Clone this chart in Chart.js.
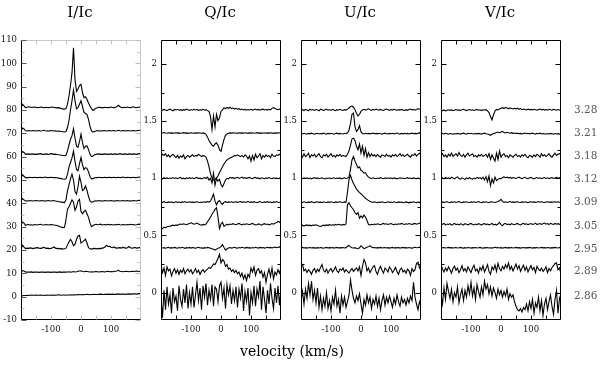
<!DOCTYPE html>
<html><head><meta charset="utf-8">
<script src="https://cdn.jsdelivr.net/npm/chart.js@4.4.1/dist/chart.umd.min.js"></script>
<style>
html,body{margin:0;padding:0;background:#fff;}
#wrap{position:relative;width:600px;height:366px;overflow:hidden;font-family:"DejaVu Serif",serif;background:#fff;}
canvas{position:absolute;left:0;top:0;}
.t{position:absolute;white-space:nowrap;transform:translate(-50%,-50%);color:#000;line-height:1;}
.ph{position:absolute;white-space:nowrap;transform:translateY(-50%);color:#555;font-size:10.5px;line-height:1;}
</style></head><body>
<div id="wrap">
<canvas id="cI" width="600" height="366"></canvas>
<canvas id="cQ" width="600" height="366"></canvas>
<canvas id="cU" width="600" height="366"></canvas>
<canvas id="cV" width="600" height="366"></canvas>
</div>
<script>
// ---------- categories / labels ----------
const panelTitles = ['I/Ic', 'Q/Ic', 'U/Ic', 'V/Ic'];
const phases = ['3.28', '3.21', '3.18', '3.12', '3.09', '3.05', '2.95', '2.89', '2.86'];
const xAxisTitle = 'velocity (km/s)';
const xLabelTicks = [-100, 0, 100];
const xTickMarks = [-150, -100, -50, 0, 50, 100, 150];
const iLabelTicks = [-10, 0, 10, 20, 30, 40, 50, 60, 70, 80, 90, 100, 110];
const iTickMarks = [-10, -5, 0, 5, 10, 15, 20, 25, 30, 35, 40, 45, 50, 55, 60, 65, 70, 75, 80, 85, 90, 95, 100, 105, 110];
const pLabelTicks = [0, 0.5, 1, 1.5, 2];
const pTickMarks = [0, 0.25, 0.5, 0.75, 1, 1.25, 1.5, 1.75, 2];

const velocity = [-200,-195,-190,-185,-180,-175,-170,-165,-160,-155,-150,-145,-140,-135,-130,-125,-120,-115,-110,-105,
-100,-95,-90,-85,-80,-75,-70,-65,-60,-55,-50,-45,-40,-35,-30,-25,-20,-15,-10,-5,
0,5,10,15,20,25,30,35,40,45,50,55,60,65,70,75,80,85,90,95,
100,105,110,115,120,125,130,135,140,145,150,155,160,165,170,175,180,185,190,195,200];

// ---------- I/Ic ----------
const I_328 = [81.0,82.5,81.8,81.0,81.2,81.4,81.3,81.1,81.2,81.3,
81.2,81.0,81.1,81.3,81.2,81.0,81.1,81.2,81.0,81.1,
81.2,81.3,81.1,81.0,80.9,81.0,80.8,80.6,80.5,80.4,
80.6,82.5,86.0,90.5,96.0,106.7,93.0,88.0,89.0,90.5,
91.0,87.5,85.3,85.7,84.5,83.0,81.6,80.6,79.8,80.3,
80.8,81.0,81.2,81.0,81.1,81.0,81.2,81.1,81.0,81.1,
81.3,81.1,81.0,81.2,81.5,82.0,81.4,81.1,81.0,81.2,
81.1,81.3,81.1,81.0,81.2,81.4,81.1,81.0,81.2,81.3,
81.2];
const I_321 = [71.0,72.3,71.9,71.1,71.0,71.2,71.1,71.0,71.2,71.1,
71.0,71.1,71.2,71.0,71.1,71.3,71.1,71.0,71.1,71.0,
71.2,71.1,71.0,71.1,70.9,71.0,70.9,70.8,70.7,70.6,
70.8,72.5,75.5,80.0,84.0,88.5,84.0,80.5,81.0,82.5,
84.0,81.5,79.0,78.5,78.0,76.0,73.0,71.0,70.5,70.8,
71.0,71.2,71.0,71.1,71.0,71.2,71.1,71.0,71.1,71.2,
71.0,71.1,71.2,71.0,71.1,71.3,71.1,71.0,71.2,71.1,
71.0,71.2,71.1,71.0,71.1,71.2,71.0,71.1,71.2,71.3,
71.2];
const I_318 = [61.0,62.2,61.8,61.0,61.1,61.2,61.0,61.1,61.2,61.0,
61.1,61.0,61.2,61.3,61.1,61.0,61.1,61.2,61.0,61.1,
61.3,61.2,61.0,61.1,60.9,60.8,60.7,60.6,60.5,60.4,
60.6,62.5,65.0,67.5,69.0,72.0,68.0,64.5,64.0,66.5,
69.6,66.0,63.5,64.5,64.6,63.0,61.0,60.0,60.3,60.8,
61.0,61.1,61.2,61.0,61.1,61.0,61.2,61.1,61.0,61.1,
61.2,61.0,61.1,61.2,61.0,61.1,61.3,61.1,61.0,61.2,
61.1,61.0,61.2,61.1,61.0,61.2,61.1,61.0,61.2,61.3,
61.2];
const I_312 = [51.0,52.2,51.6,51.0,51.1,51.0,51.2,51.1,51.0,51.2,
51.1,51.0,51.1,51.2,51.0,51.1,51.3,51.1,51.0,51.1,
51.2,51.1,51.0,51.1,51.0,50.8,50.7,50.6,50.4,50.3,
50.5,52.5,55.5,57.5,59.5,62.4,58.0,54.5,54.0,57.0,
59.6,56.5,54.5,55.3,55.0,53.5,51.5,50.5,50.6,51.0,
51.1,51.0,51.2,51.1,51.0,51.1,51.2,51.0,51.1,51.2,
51.0,51.1,51.2,51.0,51.1,51.2,51.0,51.1,51.3,51.1,
51.0,51.2,51.1,51.0,51.1,51.2,51.0,51.1,51.2,51.3,
51.2];
const I_309 = [41.0,42.0,41.5,41.0,41.1,41.0,41.2,41.1,41.0,41.1,
41.2,41.1,41.0,41.1,41.2,41.0,41.1,41.0,41.2,41.1,
41.0,41.1,41.2,41.0,40.9,40.8,40.6,40.5,40.4,40.3,
41.5,45.5,48.0,50.5,52.5,50.0,45.0,44.0,47.0,51.6,
49.0,45.5,46.0,47.5,45.5,43.0,41.0,40.5,40.6,41.0,
41.1,41.0,41.2,41.0,41.1,41.0,41.2,41.1,41.0,41.1,
41.2,41.0,41.1,41.0,41.2,41.1,41.0,41.1,41.2,41.0,
41.1,41.2,41.0,41.1,41.0,41.2,41.1,41.0,41.2,41.3,
41.2];
const I_305 = [30.8,32.0,31.5,30.6,30.8,30.9,30.7,30.8,30.6,30.9,
30.8,30.7,30.9,31.0,30.8,30.7,30.8,30.9,30.7,30.8,
30.9,30.8,30.7,30.6,30.5,30.3,30.0,29.8,29.6,29.7,
33.0,37.5,38.5,40.0,41.5,40.5,37.0,38.5,41.0,41.7,
36.5,35.5,36.5,37.0,35.5,34.0,31.5,30.0,30.5,30.8,
31.0,30.8,30.9,31.1,30.7,30.8,30.9,30.7,31.0,30.8,
30.9,30.8,30.7,30.9,30.8,31.0,30.8,30.7,30.9,30.8,
30.7,30.9,30.8,31.0,30.8,30.9,30.7,30.8,31.0,31.1,
31.0];
const I_295 = [20.5,22.0,21.2,20.6,20.8,20.7,20.9,20.8,20.6,20.8,
20.9,21.0,20.8,20.7,20.8,21.2,20.9,20.7,20.8,20.6,
20.7,21.0,21.3,20.8,20.6,20.7,20.5,20.6,20.4,20.5,
20.8,22.2,23.5,24.6,23.5,21.8,22.5,24.5,26.0,26.3,
23.0,23.5,24.0,24.6,23.0,21.0,20.5,20.4,20.6,20.7,
20.6,20.5,20.7,20.6,20.8,20.9,21.3,22.0,21.5,21.6,
21.2,21.0,21.3,20.9,20.8,20.9,21.0,20.8,21.2,20.9,
20.8,21.0,21.5,21.0,20.8,20.9,21.1,20.8,20.9,21.0,
21.0];
const I_289 = [10.4,11.2,11.0,10.6,10.5,10.6,10.5,10.6,10.4,10.5,
10.6,10.5,10.4,10.5,10.6,10.5,10.4,10.5,10.6,10.5,
10.4,10.5,10.6,10.5,10.4,10.5,10.6,10.4,10.5,10.6,
10.5,10.6,10.7,10.5,10.6,10.8,10.6,10.7,10.9,11.0,
11.1,10.8,10.7,10.9,10.8,10.7,10.6,10.7,10.6,10.7,
10.8,10.7,10.6,10.7,10.8,10.7,10.6,10.8,10.9,10.7,
10.8,10.7,10.8,10.9,11.0,11.3,10.9,10.8,10.7,10.8,
10.9,10.8,10.7,10.8,10.9,10.8,10.9,11.0,10.9,10.8,
10.9];
const I_286 = [0.2,0.4,0.5,0.5,0.6,0.5,0.6,0.7,0.6,0.6,
0.7,0.6,0.6,0.7,0.6,0.5,0.6,0.7,0.6,0.6,
0.7,0.6,0.7,0.6,0.7,0.8,0.7,0.6,0.7,0.7,
0.6,0.7,0.7,0.8,0.7,0.8,0.7,0.8,0.9,0.8,
0.8,0.9,0.8,0.9,1.0,0.9,0.8,0.9,0.9,1.0,
0.9,0.9,1.0,1.1,1.0,0.9,1.0,1.0,1.1,1.0,
1.0,1.1,1.0,1.0,1.1,1.2,1.0,1.1,1.1,1.0,
1.1,1.1,1.2,1.1,1.1,1.2,1.2,1.1,1.2,1.3,
1.3];

// ---------- Q/Ic ----------
const Q_328 = [1.600,1.595,1.603,1.598,1.592,1.600,1.606,1.597,1.590,1.602,
1.598,1.604,1.596,1.600,1.593,1.601,1.597,1.605,1.599,1.594,
1.601,1.596,1.604,1.598,1.602,1.595,1.600,1.597,1.603,1.596,
1.600,1.592,1.585,1.540,1.427,1.545,1.450,1.560,1.505,1.530,
1.585,1.600,1.618,1.608,1.620,1.612,1.622,1.610,1.615,1.606,
1.612,1.604,1.609,1.600,1.606,1.598,1.603,1.596,1.602,1.598,
1.604,1.597,1.601,1.606,1.598,1.603,1.596,1.601,1.605,1.598,
1.602,1.597,1.603,1.599,1.612,1.618,1.610,1.605,1.600,1.606,
1.602];
const Q_321 = [1.398,1.395,1.400,1.396,1.394,1.398,1.395,1.397,1.393,1.396,
1.398,1.395,1.397,1.394,1.396,1.399,1.395,1.397,1.393,1.396,
1.398,1.396,1.394,1.397,1.395,1.398,1.396,1.394,1.397,1.393,
1.385,1.360,1.330,1.310,1.290,1.280,1.300,1.310,1.290,1.250,
1.235,1.290,1.340,1.375,1.388,1.394,1.397,1.395,1.398,1.396,
1.396,1.393,1.398,1.395,1.397,1.394,1.398,1.396,1.393,1.397,
1.395,1.398,1.394,1.396,1.399,1.395,1.397,1.393,1.396,1.398,
1.394,1.397,1.395,1.398,1.396,1.393,1.397,1.395,1.398,1.396,
1.397];
const Q_318 = [1.195,1.210,1.200,1.215,1.190,1.205,1.185,1.200,1.210,1.195,
1.180,1.200,1.175,1.195,1.185,1.205,1.170,1.190,1.200,1.185,
1.195,1.205,1.190,1.200,1.195,1.210,1.200,1.190,1.198,1.195,
1.185,1.150,1.100,1.040,1.000,0.985,0.990,1.005,1.020,1.050,
1.075,1.100,1.125,1.145,1.160,1.170,1.178,1.185,1.190,1.200,
1.195,1.205,1.198,1.190,1.200,1.185,1.205,1.195,1.170,1.195,
1.150,1.200,1.160,1.210,1.180,1.195,1.215,1.170,1.200,1.185,
1.205,1.190,1.200,1.180,1.210,1.195,1.190,1.205,1.200,1.210,
1.200];
const Q_312 = [1.000,0.995,1.005,0.998,1.003,0.996,1.002,0.998,1.006,0.999,
1.004,0.997,1.002,1.008,0.996,1.001,0.994,1.003,0.998,1.005,
0.999,1.004,0.996,1.002,1.007,0.997,1.003,0.995,1.001,1.006,
0.998,1.010,0.985,1.000,0.960,1.045,0.940,1.000,0.975,0.990,
0.945,0.925,0.955,0.985,1.000,0.995,1.008,1.002,1.006,0.998,
1.004,1.009,0.999,1.005,1.010,1.000,1.006,0.998,1.004,1.008,
1.001,0.996,1.005,1.008,0.999,1.003,0.995,1.004,1.000,0.996,
1.003,0.998,1.006,1.001,0.997,1.004,0.999,1.002,0.996,1.001,
0.999];
const Q_309 = [0.792,0.788,0.795,0.790,0.786,0.793,0.789,0.794,0.787,0.791,
0.795,0.789,0.792,0.786,0.793,0.790,0.796,0.788,0.791,0.794,
0.789,0.793,0.787,0.792,0.795,0.790,0.788,0.793,0.791,0.795,
0.790,0.796,0.792,0.800,0.830,0.862,0.800,0.768,0.795,0.805,
0.785,0.772,0.790,0.795,0.788,0.793,0.790,0.794,0.788,0.792,
0.795,0.789,0.793,0.797,0.790,0.794,0.788,0.792,0.796,0.790,
0.793,0.788,0.795,0.790,0.786,0.792,0.797,0.790,0.788,0.793,
0.790,0.795,0.789,0.792,0.787,0.793,0.790,0.796,0.791,0.788,
0.792];
const Q_305 = [0.555,0.560,0.572,0.568,0.575,0.580,0.578,0.586,0.590,0.585,
0.592,0.588,0.595,0.600,0.596,0.602,0.598,0.594,0.600,0.605,
0.610,0.604,0.598,0.602,0.608,0.600,0.594,0.590,0.596,0.592,
0.600,0.620,0.640,0.660,0.685,0.705,0.728,0.742,0.660,0.560,
0.600,0.615,0.580,0.590,0.598,0.592,0.600,0.596,0.603,0.598,
0.594,0.600,0.605,0.598,0.592,0.600,0.596,0.602,0.598,0.594,
0.600,0.605,0.598,0.592,0.596,0.601,0.595,0.590,0.598,0.603,
0.596,0.600,0.593,0.598,0.604,0.598,0.606,0.612,0.622,0.615,
0.625];
const Q_295 = [0.395,0.390,0.393,0.388,0.392,0.396,0.389,0.393,0.390,0.395,
0.391,0.388,0.394,0.390,0.396,0.392,0.387,0.393,0.390,0.395,
0.389,0.394,0.391,0.388,0.393,0.396,0.390,0.392,0.387,0.393,
0.390,0.395,0.392,0.388,0.384,0.378,0.372,0.380,0.388,0.392,
0.402,0.420,0.395,0.372,0.382,0.390,0.394,0.389,0.393,0.396,
0.391,0.388,0.394,0.390,0.396,0.392,0.389,0.395,0.391,0.393,
0.388,0.394,0.390,0.396,0.392,0.389,0.395,0.391,0.394,0.389,
0.393,0.396,0.391,0.395,0.390,0.394,0.398,0.393,0.396,0.400,
0.397];
const Q_289 = [0.240,0.175,0.215,0.150,0.225,0.190,0.205,0.145,0.185,0.210,
0.170,0.200,0.160,0.195,0.175,0.210,0.165,0.190,0.205,0.180,
0.200,0.165,0.185,0.210,0.175,0.195,0.160,0.185,0.200,0.178,
0.195,0.205,0.220,0.210,0.230,0.250,0.245,0.270,0.300,0.335,
0.260,0.290,0.275,0.230,0.245,0.205,0.215,0.185,0.200,0.175,
0.195,0.165,0.180,0.140,0.170,0.120,0.155,0.105,0.160,0.135,
0.215,0.180,0.225,0.150,0.195,0.210,0.170,0.190,0.135,0.175,
0.090,0.160,0.205,0.140,0.215,0.120,0.180,0.155,0.200,0.170,
0.215];
const Q_286 = [-0.05,-0.22,0.02,-0.15,0.05,-0.10,-0.02,-0.18,0.04,-0.08,
-0.03,-0.16,0.06,-0.06,-0.12,0.03,-0.09,0.07,-0.14,0.00,
-0.10,0.05,-0.13,-0.02,0.09,-0.07,0.04,-0.15,0.06,-0.04,
0.08,-0.11,0.02,-0.06,0.07,-0.12,0.05,0.03,-0.08,0.06,
0.09,-0.05,0.04,-0.14,0.07,-0.02,0.06,-0.10,0.02,-0.07,
0.05,-0.13,0.03,-0.05,0.08,-0.16,0.01,-0.08,0.04,-0.20,
0.00,-0.09,0.06,-0.12,0.03,-0.04,0.10,-0.15,0.05,-0.06,
-0.18,0.02,-0.10,0.08,-0.05,-0.14,0.04,-0.09,0.06,-0.11,
0.03];

// ---------- U/Ic ----------
const U_328 = [1.595,1.600,1.592,1.603,1.598,1.590,1.605,1.596,1.601,1.594,
1.602,1.597,1.590,1.604,1.599,1.593,1.600,1.606,1.596,1.601,
1.594,1.603,1.598,1.592,1.600,1.596,1.604,1.598,1.593,1.601,
1.597,1.605,1.615,1.628,1.632,1.622,1.600,1.570,1.545,1.560,
1.585,1.598,1.604,1.597,1.602,1.608,1.600,1.595,1.603,1.598,
1.605,1.600,1.596,1.603,1.598,1.594,1.601,1.606,1.599,1.595,
1.602,1.597,1.604,1.599,1.594,1.601,1.597,1.603,1.598,1.593,
1.600,1.595,1.602,1.606,1.598,1.603,1.596,1.601,1.608,1.604,
1.610];
const U_321 = [1.392,1.388,1.394,1.390,1.387,1.393,1.389,1.395,1.390,1.386,
1.391,1.394,1.388,1.392,1.389,1.395,1.390,1.387,1.393,1.389,
1.394,1.390,1.386,1.392,1.395,1.389,1.393,1.390,1.388,1.394,
1.390,1.398,1.420,1.480,1.560,1.570,1.450,1.410,1.425,1.460,
1.405,1.392,1.388,1.394,1.390,1.393,1.389,1.392,1.395,1.390,
1.393,1.389,1.394,1.390,1.387,1.392,1.395,1.390,1.388,1.393,
1.390,1.394,1.389,1.392,1.396,1.390,1.387,1.393,1.389,1.394,
1.390,1.393,1.388,1.392,1.395,1.390,1.393,1.389,1.394,1.397,
1.395];
const U_318 = [1.205,1.185,1.215,1.190,1.200,1.220,1.180,1.205,1.195,1.210,
1.185,1.200,1.215,1.190,1.180,1.205,1.195,1.210,1.185,1.200,
1.215,1.190,1.200,1.185,1.205,1.195,1.210,1.190,1.200,1.195,
1.190,1.210,1.240,1.290,1.345,1.350,1.330,1.280,1.250,1.300,
1.220,1.280,1.200,1.260,1.185,1.225,1.190,1.215,1.195,1.205,
1.190,1.210,1.195,1.185,1.205,1.200,1.190,1.210,1.195,1.200,
1.185,1.205,1.195,1.210,1.190,1.200,1.215,1.195,1.205,1.190,
1.200,1.210,1.195,1.185,1.205,1.200,1.215,1.195,1.210,1.220,
1.205];
const U_312 = [1.000,0.996,1.003,0.998,1.004,0.997,1.002,0.995,1.001,1.005,
0.998,1.003,0.996,1.001,1.005,0.999,0.994,1.002,0.998,1.004,
0.997,1.001,1.004,0.996,1.002,0.999,1.003,0.995,1.000,1.004,
0.998,1.002,1.010,1.080,1.160,1.190,1.150,1.120,1.090,1.100,
1.070,1.060,1.045,1.050,1.025,1.010,1.003,0.998,1.004,1.000,
0.996,1.002,0.998,1.005,1.000,0.996,1.003,0.998,1.004,0.999,
1.002,0.997,1.003,0.999,0.995,1.001,1.004,0.998,1.002,0.996,
1.001,1.005,0.998,1.002,0.997,1.003,0.999,0.996,1.002,0.998,
0.995];
const U_309 = [0.792,0.788,0.794,0.790,0.786,0.793,0.789,0.795,0.790,0.787,
0.792,0.795,0.789,0.791,0.787,0.794,0.790,0.788,0.793,0.789,
0.794,0.790,0.787,0.793,0.789,0.792,0.795,0.790,0.788,0.793,
0.790,0.880,0.990,1.025,0.985,0.955,0.930,0.905,0.890,0.875,
0.865,0.850,0.838,0.825,0.815,0.805,0.798,0.792,0.789,0.794,
0.790,0.787,0.792,0.789,0.794,0.790,0.786,0.791,0.795,0.789,
0.792,0.788,0.794,0.790,0.787,0.793,0.789,0.792,0.786,0.790,
0.793,0.789,0.785,0.791,0.788,0.794,0.790,0.787,0.792,0.789,
0.785];
const U_305 = [0.585,0.590,0.582,0.588,0.592,0.586,0.590,0.584,0.591,0.588,
0.593,0.587,0.582,0.578,0.585,0.590,0.586,0.592,0.588,0.594,
0.589,0.593,0.590,0.596,0.592,0.598,0.594,0.590,0.596,0.592,
0.600,0.770,0.786,0.760,0.742,0.725,0.698,0.684,0.700,0.650,
0.670,0.655,0.678,0.660,0.630,0.596,0.592,0.598,0.594,0.600,
0.596,0.602,0.598,0.594,0.600,0.605,0.598,0.602,0.596,0.600,
0.604,0.598,0.594,0.600,0.596,0.602,0.598,0.605,0.600,0.596,
0.602,0.598,0.604,0.600,0.596,0.601,0.605,0.598,0.603,0.608,
0.604];
const U_295 = [0.392,0.395,0.390,0.393,0.389,0.392,0.394,0.390,0.393,0.391,
0.389,0.393,0.390,0.394,0.391,0.388,0.392,0.395,0.390,0.393,
0.391,0.394,0.389,0.392,0.395,0.390,0.393,0.391,0.394,0.390,
0.393,0.405,0.412,0.400,0.392,0.390,0.393,0.386,0.384,0.392,
0.410,0.398,0.384,0.390,0.396,0.402,0.410,0.398,0.392,0.394,
0.390,0.393,0.391,0.395,0.390,0.392,0.394,0.390,0.393,0.389,
0.392,0.395,0.390,0.393,0.391,0.394,0.389,0.392,0.395,0.391,
0.393,0.390,0.394,0.391,0.389,0.393,0.396,0.392,0.394,0.397,
0.395];
const U_289 = [0.235,0.245,0.190,0.205,0.175,0.200,0.185,0.160,0.195,0.210,
0.175,0.205,0.185,0.220,0.245,0.195,0.180,0.205,0.170,0.195,
0.210,0.180,0.200,0.225,0.190,0.175,0.205,0.195,0.215,0.180,
0.200,0.185,0.170,0.195,0.210,0.185,0.200,0.215,0.190,0.225,
0.150,0.230,0.290,0.260,0.190,0.215,0.175,0.200,0.225,0.235,
0.185,0.160,0.205,0.230,0.195,0.170,0.215,0.200,0.180,0.225,
0.205,0.175,0.195,0.220,0.185,0.160,0.200,0.215,0.180,0.195,
0.170,0.205,0.190,0.150,0.210,0.185,0.200,0.255,0.265,0.215,
0.240];
const U_286 = [-0.07,0.01,-0.10,0.03,-0.05,0.08,-0.02,0.10,-0.06,0.02,
-0.09,0.04,-0.13,-0.03,-0.15,-0.05,-0.12,0.00,-0.14,-0.07,
-0.16,-0.04,-0.10,0.02,-0.12,-0.06,-0.18,-0.03,-0.11,-0.04,
-0.13,-0.08,-0.02,0.11,0.02,-0.05,-0.09,-0.03,-0.07,-0.01,
-0.10,-0.18,-0.06,-0.11,-0.02,-0.09,-0.04,-0.14,-0.06,-0.10,
-0.03,-0.12,-0.05,-0.15,-0.07,-0.02,-0.11,-0.04,-0.09,-0.03,
-0.08,-0.13,-0.05,-0.10,-0.02,-0.08,-0.12,-0.04,-0.09,-0.06,
-0.11,-0.05,-0.09,-0.03,-0.07,0.09,-0.04,-0.10,-0.15,-0.08,
-0.12];

// ---------- V/Ic ----------
const V_328 = [1.595,1.592,1.598,1.590,1.596,1.600,1.594,1.598,1.591,1.597,
1.601,1.595,1.598,1.593,1.599,1.604,1.597,1.592,1.598,1.602,
1.596,1.600,1.594,1.598,1.603,1.596,1.599,1.593,1.600,1.597,
1.600,1.590,1.575,1.540,1.510,1.555,1.590,1.603,1.598,1.606,
1.612,1.618,1.610,1.620,1.614,1.608,1.616,1.611,1.606,1.612,
1.608,1.614,1.604,1.610,1.600,1.606,1.602,1.598,1.605,1.600,
1.603,1.598,1.604,1.600,1.596,1.602,1.606,1.599,1.603,1.597,
1.601,1.596,1.604,1.600,1.597,1.603,1.599,1.595,1.601,1.598,
1.600];
const V_321 = [1.395,1.392,1.388,1.394,1.390,1.386,1.392,1.389,1.385,1.391,
1.388,1.393,1.390,1.387,1.392,1.395,1.390,1.387,1.393,1.390,
1.394,1.390,1.388,1.392,1.389,1.393,1.390,1.387,1.392,1.395,
1.390,1.387,1.383,1.376,1.385,1.392,1.395,1.400,1.405,1.398,
1.404,1.410,1.400,1.396,1.402,1.398,1.394,1.399,1.393,1.396,
1.392,1.395,1.390,1.393,1.388,1.392,1.396,1.390,1.394,1.389,
1.392,1.395,1.390,1.387,1.393,1.390,1.395,1.388,1.392,1.389,
1.386,1.391,1.388,1.393,1.390,1.386,1.392,1.388,1.391,1.387,
1.390];
const V_318 = [1.200,1.215,1.190,1.205,1.185,1.210,1.195,1.220,1.190,1.205,
1.215,1.195,1.225,1.200,1.190,1.210,1.185,1.205,1.220,1.195,
1.205,1.215,1.190,1.200,1.185,1.205,1.195,1.210,1.190,1.200,
1.210,1.185,1.215,1.165,1.205,1.175,1.150,1.220,1.165,1.240,
1.185,1.205,1.215,1.190,1.200,1.180,1.205,1.195,1.185,1.200,
1.210,1.190,1.200,1.185,1.205,1.195,1.210,1.190,1.180,1.200,
1.195,1.185,1.205,1.190,1.210,1.200,1.185,1.215,1.195,1.205,
1.190,1.200,1.215,1.195,1.185,1.205,1.220,1.200,1.210,1.215,
1.205];
const V_312 = [1.000,1.004,0.995,1.008,0.998,1.003,0.996,1.010,1.002,0.995,
1.006,1.012,0.998,0.992,1.004,0.997,0.990,1.003,0.996,1.005,
0.998,0.993,1.002,0.995,1.008,1.000,1.006,0.994,1.010,0.985,
1.015,0.970,1.020,0.935,0.995,0.960,1.010,0.980,0.990,1.000,
0.995,1.008,1.012,1.005,1.010,1.004,1.008,1.000,1.006,1.003,
0.998,1.005,1.010,1.002,0.996,1.004,1.009,1.001,0.997,1.004,
1.008,1.000,0.995,1.003,1.007,0.999,1.004,0.996,1.002,1.006,
0.999,1.004,0.997,1.002,1.006,0.998,1.003,1.008,1.001,1.005,
1.002];
const V_309 = [0.790,0.793,0.788,0.792,0.795,0.790,0.787,0.793,0.790,0.794,
0.789,0.792,0.796,0.790,0.787,0.793,0.790,0.795,0.791,0.788,
0.793,0.790,0.794,0.789,0.792,0.796,0.790,0.787,0.793,0.790,
0.794,0.790,0.787,0.792,0.795,0.790,0.788,0.793,0.797,0.803,
0.815,0.798,0.790,0.794,0.789,0.792,0.796,0.790,0.793,0.789,
0.792,0.795,0.790,0.788,0.793,0.790,0.794,0.791,0.787,0.792,
0.795,0.790,0.793,0.789,0.792,0.796,0.790,0.794,0.791,0.788,
0.792,0.795,0.790,0.793,0.789,0.792,0.795,0.791,0.794,0.790,
0.792];
const V_305 = [0.590,0.598,0.605,0.592,0.600,0.596,0.603,0.590,0.598,0.606,
0.594,0.600,0.592,0.602,0.597,0.590,0.604,0.598,0.593,0.600,
0.605,0.596,0.592,0.600,0.594,0.603,0.598,0.590,0.599,0.604,
0.595,0.600,0.593,0.598,0.605,0.592,0.598,0.590,0.600,0.615,
0.595,0.585,0.600,0.606,0.595,0.600,0.592,0.603,0.598,0.594,
0.600,0.605,0.596,0.592,0.600,0.606,0.597,0.602,0.594,0.600,
0.604,0.596,0.600,0.608,0.595,0.600,0.604,0.596,0.602,0.608,
0.598,0.604,0.595,0.606,0.600,0.596,0.605,0.598,0.603,0.597,
0.600];
const V_295 = [0.393,0.391,0.394,0.390,0.392,0.395,0.391,0.393,0.390,0.392,
0.394,0.390,0.392,0.395,0.391,0.389,0.393,0.390,0.394,0.392,
0.389,0.393,0.391,0.394,0.390,0.392,0.395,0.391,0.388,0.393,
0.391,0.394,0.390,0.392,0.389,0.393,0.396,0.391,0.394,0.390,
0.393,0.389,0.392,0.395,0.390,0.393,0.391,0.394,0.390,0.392,
0.395,0.391,0.393,0.389,0.392,0.394,0.390,0.393,0.391,0.395,
0.392,0.389,0.393,0.391,0.394,0.390,0.392,0.395,0.391,0.393,
0.390,0.394,0.392,0.389,0.393,0.391,0.395,0.392,0.390,0.394,
0.392];
const V_289 = [0.245,0.205,0.180,0.215,0.190,0.225,0.200,0.170,0.210,0.230,
0.195,0.215,0.175,0.200,0.235,0.190,0.210,0.180,0.225,0.200,
0.175,0.215,0.240,0.190,0.205,0.170,0.220,0.195,0.235,0.180,
0.210,0.245,0.185,0.160,0.225,0.200,0.240,0.185,0.255,0.210,
0.190,0.230,0.205,0.245,0.215,0.260,0.200,0.230,0.190,0.220,
0.250,0.205,0.235,0.185,0.215,0.240,0.195,0.225,0.180,0.210,
0.235,0.200,0.220,0.175,0.230,0.205,0.190,0.215,0.185,0.200,
0.225,0.175,0.210,0.190,0.220,0.235,0.255,0.260,0.200,0.215,
0.165];
const V_286 = [-0.02,-0.10,0.04,-0.06,0.08,0.01,-0.05,0.03,-0.08,0.00,
-0.04,0.05,-0.09,-0.02,0.03,-0.07,0.02,-0.04,0.06,-0.01,
0.09,-0.03,0.04,-0.06,0.07,0.01,-0.04,0.05,-0.02,0.10,
0.03,0.07,-0.01,0.05,-0.03,0.04,0.00,-0.05,0.03,-0.02,
0.02,-0.04,0.01,-0.03,0.03,-0.06,-0.01,-0.04,-0.02,-0.08,
-0.12,-0.15,-0.16,-0.14,-0.17,-0.13,-0.15,-0.10,-0.16,-0.08,
-0.14,-0.06,-0.18,-0.09,-0.13,-0.04,-0.16,-0.07,-0.20,-0.10,
-0.05,-0.15,-0.08,-0.02,-0.12,-0.19,-0.06,0.02,-0.18,-0.05,
-0.01];

const iSeries = [I_328, I_321, I_318, I_312, I_309, I_305, I_295, I_289, I_286];
const qSeries = [Q_328, Q_321, Q_318, Q_312, Q_309, Q_305, Q_295, Q_289, Q_286];
const uSeries = [U_328, U_321, U_318, U_312, U_309, U_305, U_295, U_289, U_286];
const vSeries = [V_328, V_321, V_318, V_312, V_309, V_305, V_295, V_289, V_286];

// ---------- layout ----------
const W = 600, H = 366;
const boxes = [
  {left: 21, right: 141, top: 40, bottom: 320, yw: 21},
  {left: 161, right: 281, top: 40, bottom: 320, yw: 40},
  {left: 301, right: 421, top: 40, bottom: 320, yw: 40},
  {left: 441, right: 561, top: 40, bottom: 320, yw: 40}
];
const FONT = '"DejaVu Serif", "Liberation Serif", serif';

function line(ctx, x1, y1, x2, y2) { ctx.beginPath(); ctx.moveTo(x1, y1); ctx.lineTo(x2, y2); ctx.stroke(); }

function framePlugin(cfg) {
  return {
    id: 'frame_' + cfg.name,
    afterDraw(chart) {
      const {ctx, chartArea: a, scales: {x, y}} = chart;
      const L = Math.round(a.left) + 0.5, R = Math.round(a.right) - 0.5;
      const T = Math.round(a.top) + 0.5, B = Math.round(a.bottom) - 0.5;
      ctx.save();
      ctx.lineWidth = 1;
      ctx.strokeStyle = cfg.boxColor;
      line(ctx, L, T, R, T); line(ctx, R, T, R, B);
      ctx.strokeStyle = cfg.axisColor;
      line(ctx, L, T, L, B); line(ctx, L, B, R, B);
      xTickMarks.forEach(v => {
        const px = Math.round(x.getPixelForValue(v)) + 0.5;
        ctx.strokeStyle = cfg.xTickColor;
        line(ctx, px, B, px, B - 4);
        line(ctx, px, T, px, T + 4);
      });
      cfg.yTickMarks.forEach(v => {
        const py = Math.round(y.getPixelForValue(v)) + 0.5;
        const major = cfg.yLabelTicks.includes(v);
        const len = major ? 5 : 3;
        ctx.strokeStyle = major ? cfg.leftMajorColor : cfg.minorColor;
        line(ctx, L, py, L + len, py);
        ctx.strokeStyle = major ? cfg.rightMajorColor : cfg.minorColor;
        line(ctx, R, py, R - len, py);
      });
      ctx.restore();
    }
  };
}

function buildPanel(id, box, yMin, yMax, yLabelTicks, yTickMarks, seriesList, style) {
  const datasets = seriesList.map(s => ({
    data: velocity.map((v, i) => ({x: v, y: s[i]})),
    borderColor: '#000', borderWidth: 1.1, pointRadius: 0, tension: 0, fill: false
  }));
  return new Chart(document.getElementById(id), {
    type: 'line',
    data: {datasets},
    options: {
      responsive: false, animation: false, devicePixelRatio: 1,
      events: [],
      layout: {padding: {left: box.left - box.yw, right: W - box.right, top: box.top, bottom: H - box.bottom - 30}},
      plugins: {legend: {display: false}, tooltip: {enabled: false}, title: {display: false}},
      scales: {
        x: {
          type: 'linear', min: -200, max: 200,
          grid: {display: false, drawTicks: false, tickLength: 0}, border: {display: false},
          afterBuildTicks: s => { s.ticks = xLabelTicks.map(v => ({value: v})); },
          afterFit: s => { s.height = 30; },
          ticks: {font: {family: FONT, size: 8.5}, color: '#111', padding: 5, maxRotation: 0, autoSkip: false,
                  callback: v => String(v)}
        },
        y: {
          type: 'linear', min: yMin, max: yMax,
          grid: {display: false, drawTicks: false, tickLength: 0}, border: {display: false},
          afterBuildTicks: s => { s.ticks = yLabelTicks.map(v => ({value: v})); },
          afterFit: s => { s.width = box.yw; },
          ticks: {font: {family: FONT, size: 8.5}, color: '#111', padding: 4, autoSkip: false,
                  callback: v => String(v)}
        }
      }
    },
    plugins: [framePlugin(Object.assign({yLabelTicks, yTickMarks}, style))]
  });
}

const iStyle = {name: 'I', boxColor: '#c8c8c8', axisColor: '#000', xTickColor: '#c0c0c0',
  leftMajorColor: '#555', rightMajorColor: '#bbb', minorColor: '#bbb'};
const pStyle = n => ({name: n, boxColor: '#000', axisColor: '#000', xTickColor: '#000',
  leftMajorColor: '#000', rightMajorColor: '#000', minorColor: '#000'});

buildPanel('cI', boxes[0], -10, 110, iLabelTicks, iTickMarks, iSeries, iStyle);
buildPanel('cQ', boxes[1], -0.24, 2.21, pLabelTicks, pTickMarks, qSeries, pStyle('Q'));
buildPanel('cU', boxes[2], -0.24, 2.21, pLabelTicks, pTickMarks, uSeries, pStyle('U'));
buildPanel('cV', boxes[3], -0.24, 2.21, pLabelTicks, pTickMarks, vSeries, pStyle('V'));

// ---------- text ----------
const wrap = document.getElementById('wrap');
function addText(txt, x, y, cls, size) {
  const d = document.createElement('div');
  d.className = cls; d.textContent = txt;
  d.style.left = x + 'px'; d.style.top = y + 'px';
  if (size) d.style.fontSize = size + 'px';
  wrap.appendChild(d);
}
panelTitles.forEach((t, k) => addText(t, (boxes[k].left + boxes[k].right) / 2 - 1, 12, 't', 15));
addText(xAxisTitle, 292, 351, 't', 14);
const phaseY = [108.5, 132, 155, 178, 201, 224.5, 247.5, 270, 295];
phases.forEach((p, k) => addText(p, 574, phaseY[k], 'ph'));
</script>
</body></html>
